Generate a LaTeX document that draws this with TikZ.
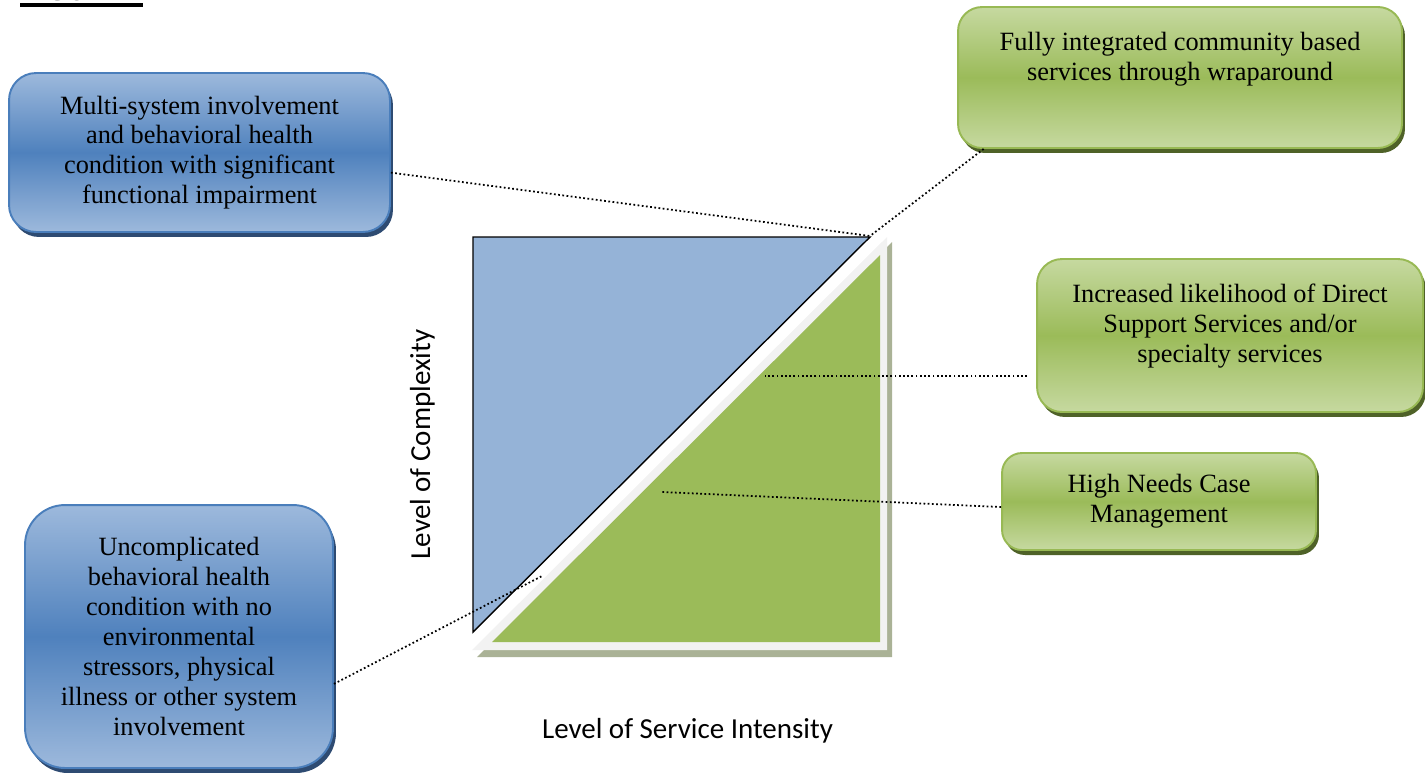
\documentclass[tikz,border=0pt]{standalone}
\usepackage{fontspec}
\setmainfont{Liberation Serif}
\newfontfamily\labelfont{Carlito}
\usepackage{tikz}
\usetikzlibrary{shadows}
\definecolor{blueLt}{HTML}{9DB9DC}
\definecolor{blueMd}{HTML}{4F81BD}
\definecolor{blueEdge}{HTML}{4A7EBB}
\definecolor{blueDk}{HTML}{2E4B72}
\definecolor{greenLt}{HTML}{C6D9A0}
\definecolor{greenMd}{HTML}{9BBB59}
\definecolor{greenEdge}{HTML}{98B954}
\definecolor{greenDk}{HTML}{4F6228}
\definecolor{triBlue}{HTML}{95B3D7}
\definecolor{triGreen}{HTML}{9BBB59}
\definecolor{triFrame}{HTML}{F2F2F2}
\definecolor{triShadow}{HTML}{AAB296}

\begin{document}
\begin{tikzpicture}[x=0.02cm, y=-0.02cm,
    box/.style={line width=1.1pt, align=center, inner sep=0pt, font=\fontsize{15}{17}\selectfont},
    bluebox/.style={box, draw=blueEdge, top color=blueLt, bottom color=blueLt, middle color=blueMd,
        drop shadow={shadow xshift=0.06cm, shadow yshift=-0.1cm, opacity=1, fill=blueDk}},
    greenbox/.style={box, draw=greenEdge, top color=greenLt, bottom color=greenLt, middle color=greenMd,
        drop shadow={shadow xshift=0.06cm, shadow yshift=-0.1cm, opacity=1, fill=greenDk}},
    axislabel/.style={font=\labelfont\fontsize{16.5}{19}\selectfont, inner sep=0pt, anchor=base},
    link/.style={dash pattern=on 1pt off 1.4pt, line width=1pt}]
    \useasboundingbox (0,0) rectangle (1425,778);

    \node[anchor=base west, inner sep=0pt, font=\bfseries\fontsize{15}{17}\selectfont] (fig) at (20,0) {FIGURE 1};
    \draw[line width=2.2pt] ([yshift=-0.1cm]fig.base west) -- ([yshift=-0.1cm]fig.base east);

    \fill[triShadow] (477,657) -- (892,242) -- (892,657) -- cycle;
    \fill[triFrame] (472,650) -- (887,237) -- (887,650) -- cycle;
    \fill[triGreen] (492,642) -- (880,255) -- (880,642) -- cycle;
    \filldraw[fill=triBlue, draw=black, line width=0.8pt] (473,237) -- (870,237) -- (473,632) -- cycle;

    \node[bluebox, minimum width=7.62cm, minimum height=3.18cm, rounded corners=0.54cm] (mult) at (199.5,152.5)
        {Multi-system involvement\\and behavioral health\\condition with significant\\functional impairment};
    \node[bluebox, minimum width=6.16cm, minimum height=5.26cm, rounded corners=0.8cm] (uncomp) at (179,636.5)
        {Uncomplicated\\behavioral health\\condition with no\\environmental\\stressors, physical\\illness or other system\\involvement};
    \node[greenbox, minimum width=8.88cm, minimum height=2.82cm, rounded corners=0.48cm] (wrap) at (1180,77.5)
        {\parbox[c][1.82cm][t]{8cm}{\centering Fully integrated community based\\services through wraparound}};
    \node[greenbox, minimum width=7.72cm, minimum height=3.06cm, rounded corners=0.5cm] (direct) at (1230,335.5)
        {\parbox[c][2.06cm][t]{7cm}{\centering Increased likelihood of Direct\\Support Services and/or\\specialty services}};
    \node[greenbox, minimum width=6.28cm, minimum height=1.94cm, rounded corners=0.4cm] (hncm) at (1159,501.5)
        {High Needs Case\\Management};

    \node[axislabel] (xlab) at (687.5,738) {Level of Service Intensity};
    \node[axislabel, rotate=90] (ylab) at (430,444.5) {Level of Complexity};

    \coordinate (apex) at (870,236);
    \coordinate (dss) at (765,376);
    \coordinate (hnc) at (662,492);
    \coordinate (unc) at (542,576);

    \draw[link] (mult.-6) -- (apex);
    \draw[link] (wrap.200) -- (apex);
    \draw[link, shorten <=0.18cm] (direct.west |- dss) -- (dss);
    \draw[link] (hncm.182) -- (hnc);
    \draw[link] (uncomp.-17) -- (unc);
\end{tikzpicture}
\end{document}
